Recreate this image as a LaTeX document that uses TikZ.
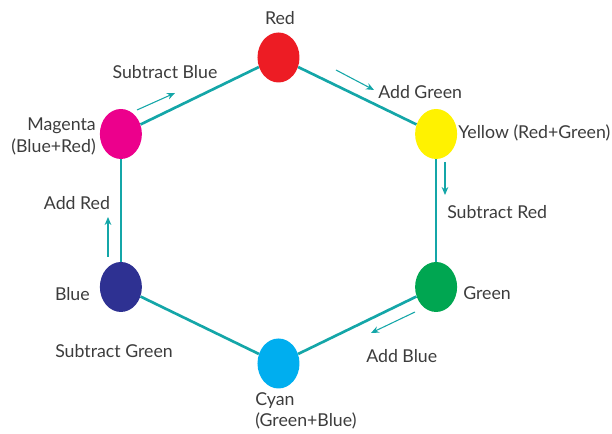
\documentclass[tikz,border=0pt]{standalone}
\usepackage{fontspec}
\setmainfont{Lato}
\usetikzlibrary{shapes.geometric,arrows.meta}
\definecolor{cred}{RGB}{237,28,36}
\definecolor{cmagenta}{RGB}{236,0,140}
\definecolor{cyellow}{RGB}{255,242,0}
\definecolor{cgreen}{RGB}{0,166,81}
\definecolor{ccyan}{RGB}{0,174,239}
\definecolor{cblue}{RGB}{46,49,146}
\definecolor{teal}{RGB}{20,166,168}
\definecolor{ink}{RGB}{60,60,60}
\begin{document}
\begin{tikzpicture}[x=0.75pt,y=0.75pt,
    dot/.style={ellipse,minimum width=31.5pt,minimum height=37.5pt,inner sep=0pt},
    txt/.style={inner sep=0pt,text=ink,font=\fontsize{13.3}{16}\selectfont},
    hexedge/.style={teal,line width=2pt},
    turn/.style={teal,line width=0.8pt,-{Stealth[length=6pt,width=5pt]}}]
      \useasboundingbox (-278.5,-223.5) rectangle (333.5,210.5);
      \draw
        (90:182 and 153) node[dot,fill=cred] (red){}
        (150:182 and 153) node[dot,fill=cmagenta] (magenta){}
        (210:182 and 153) node[dot,fill=cblue] (blue){}
        (270:182 and 153) node[dot,fill=ccyan] (cyan){}
        (330:182 and 153) node[dot,fill=cgreen] (green){}
        (30:182 and 153) node[dot,fill=cyellow] (yellow){};
      \begin{scope}[-]
        \draw[hexedge] (red) to (yellow);
        \draw[hexedge] (yellow) to (green);
        \draw[hexedge] (green) to (cyan);
        \draw[hexedge] (cyan) to (blue);
        \draw[hexedge] (blue) to (magenta);
        \draw[hexedge] (magenta) to (red);
      \end{scope}
      % labels
      \node[txt] (redtxt) at (1.5,192.5) {Red};
      \node[txt,anchor=east,align=right] (magentatxt) at (-182.5,74) {Magenta\\(Blue+Red)};
      \node[txt,anchor=west] (yellowtxt) at (179.5,77.5) {Yellow (Red+Green)};
      \node[txt,anchor=west] (greentxt) at (184.5,-82.5) {Green};
      \node[txt,anchor=east] (bluetxt) at (-188.5,-83.5) {Blue};
      \node[txt,anchor=west,align=left] (cyantxt) at (-23.5,-200.5) {Cyan\\(Green+Blue)};
      \node[txt] (subblue) at (-113.5,138.5) {Subtract Blue};
      \node[txt,anchor=west] (addgreen) at (99.5,118.5) {Add Green};
      \node[txt,anchor=west] (subred) at (168.5,-1.5) {Subtract Red};
      \node[txt,anchor=west] (addblue) at (87.5,-145.5) {Add Blue};
      \node[txt,anchor=west] (subgreen) at (-223.5,-140.5) {Subtract Green};
      \node[txt] (addred) at (-201.5,7.5) {Add Red};
      % small arrows
      \coordinate (sb0) at (-141.5,100.5); \coordinate (sb1) at (-103.5,117.5);
      \coordinate (ag0) at (57.5,140.5);   \coordinate (ag1) at (95.5,120.5);
      \coordinate (sr0) at (166.5,48.5);   \coordinate (sr1) at (166.5,15.5);
      \coordinate (ab0) at (136.5,-101.5); \coordinate (ab1) at (92.5,-122.5);
      \coordinate (ar0) at (-170.5,-46.5); \coordinate (ar1) at (-170.5,-6.5);
      \draw[turn] (sb0) to (sb1);
      \draw[turn] (ag0) to (ag1);
      \draw[turn] (sr0) to (sr1);
      \draw[turn] (ab0) to (ab1);
      \draw[turn] (ar0) to (ar1);
    \end{tikzpicture}
\end{document}
